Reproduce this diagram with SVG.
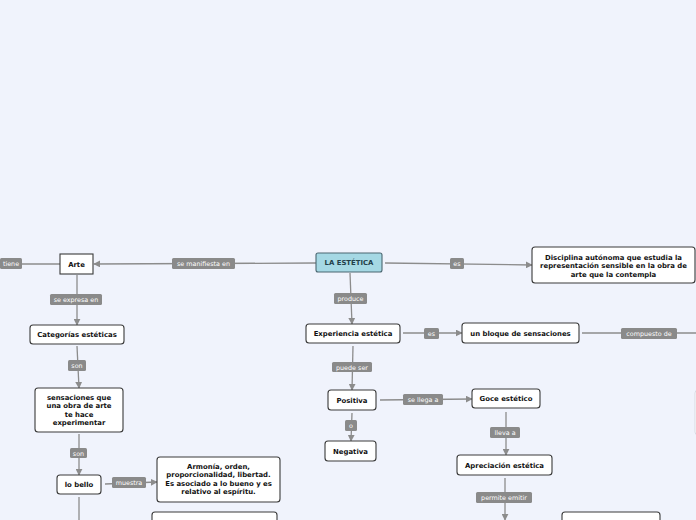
<svg xmlns="http://www.w3.org/2000/svg" width="696" height="520" viewBox="0 0 696 520">
<defs>
<marker id="ah" viewBox="0 0 10 10" refX="9" refY="5" markerWidth="7" markerHeight="7" markerUnits="userSpaceOnUse" orient="auto">
<path d="M0,0 L10,5 L0,10 z" fill="#8c8c8c"/>
</marker>
<style>
.n{fill:#fff;stroke:#3a3a3a;stroke-width:1.1}
.root{fill:#a5d8e4;stroke:#4a6670;stroke-width:1.1}
.t{font-family:"DejaVu Sans",Verdana,sans-serif;font-size:6.9px;font-weight:bold;fill:#111;text-anchor:middle}
.tr{font-family:"DejaVu Sans",Verdana,sans-serif;font-size:6.9px;font-weight:bold;fill:#23404a;text-anchor:middle}
.c{stroke:#8c8c8c;stroke-width:1.3;fill:none}
.lb{fill:#8a8a8a}
.lt{font-family:"DejaVu Sans",Verdana,sans-serif;font-size:6.4px;fill:#fff;text-anchor:middle}
</style>
</defs>
<rect width="696" height="520" fill="#f0f3fc"/>
<g id="connectors">
<line class="c" x1="22" y1="264" x2="60" y2="264"/>
<line class="c" x1="316" y1="263" x2="94" y2="264" marker-end="url(#ah)"/>
<line class="c" x1="385" y1="263" x2="532" y2="265" marker-end="url(#ah)"/>
<line class="c" x1="350" y1="273" x2="352" y2="324" marker-end="url(#ah)"/>
<line class="c" x1="77" y1="275" x2="77" y2="325" marker-end="url(#ah)"/>
<line class="c" x1="77" y1="346" x2="79" y2="388" marker-end="url(#ah)"/>
<line class="c" x1="79" y1="434" x2="79" y2="475" marker-end="url(#ah)"/>
<line class="c" x1="105" y1="484" x2="157" y2="482" marker-end="url(#ah)"/>
<line class="c" x1="79" y1="497" x2="79" y2="520"/>
<line class="c" x1="403" y1="333" x2="462" y2="333" marker-end="url(#ah)"/>
<line class="c" x1="582" y1="333" x2="696" y2="333"/>
<line class="c" x1="353" y1="346" x2="352" y2="390" marker-end="url(#ah)"/>
<line class="c" x1="352" y1="413" x2="351" y2="441" marker-end="url(#ah)"/>
<line class="c" x1="380" y1="400" x2="472" y2="399" marker-end="url(#ah)"/>
<line class="c" x1="506" y1="412" x2="506" y2="455" marker-end="url(#ah)"/>
<line class="c" x1="505" y1="478" x2="505" y2="520" marker-end="url(#ah)"/>
</g>
<g id="labels">
<rect class="lb" x="0" y="258" width="22" height="11" rx="1.5"/><text class="lt" x="11" y="266">tiene</text>
<rect class="lb" x="172" y="258" width="63" height="11" rx="1.5"/><text class="lt" x="203.5" y="266">se manifiesta en</text>
<rect class="lb" x="450" y="258" width="14" height="11" rx="1.5"/><text class="lt" x="457" y="266">es</text>
<rect class="lb" x="334" y="293" width="33" height="11" rx="1.5"/><text class="lt" x="350.5" y="301">produce</text>
<rect class="lb" x="50" y="294" width="52" height="11" rx="1.5"/><text class="lt" x="76" y="302">se expresa en</text>
<rect class="lb" x="68" y="360" width="18" height="11" rx="1.5"/><text class="lt" x="77" y="368">son</text>
<rect class="lb" x="70" y="448" width="17" height="10" rx="1.5"/><text class="lt" x="78.5" y="456">son</text>
<rect class="lb" x="112" y="477" width="34" height="11" rx="1.5"/><text class="lt" x="129" y="485">muestra</text>
<rect class="lb" x="424" y="328" width="15" height="11" rx="1.5"/><text class="lt" x="431.5" y="336">es</text>
<rect class="lb" x="621" y="328" width="56" height="11" rx="1.5"/><text class="lt" x="649" y="336">compuesto de</text>
<rect class="lb" x="332" y="362" width="40" height="10" rx="1.5"/><text class="lt" x="352" y="369.5">puede ser</text>
<rect class="lb" x="345" y="420" width="12" height="11" rx="1.5"/><text class="lt" x="351" y="428">o</text>
<rect class="lb" x="403" y="394" width="40" height="11" rx="1.5"/><text class="lt" x="423" y="402">se llega a</text>
<rect class="lb" x="490" y="427" width="30" height="11" rx="1.5"/><text class="lt" x="505" y="435">lleva a</text>
<rect class="lb" x="476" y="492" width="56" height="11" rx="1.5"/><text class="lt" x="504" y="500">permite emitir</text>
</g>
<g id="n-estetica"><rect class="root" x="316" y="253" width="66" height="19" rx="2"/><text class="tr" x="349" y="265">LA ESTÉTICA</text></g>
<g id="n-arte"><rect class="n" x="60" y="254" width="33" height="20" stroke-width="1.4"/><text class="t" x="76.5" y="266.5">Arte</text></g>
<g id="n-categorias"><rect class="n" x="30" y="325" width="94" height="19" rx="3"/><text class="t" x="77" y="337">Categorías estéticas</text></g>
<g id="n-sensaciones"><rect class="n" x="35" y="388" width="88" height="44" rx="3"/>
<text class="t" x="79" y="399.5">sensaciones que</text><text class="t" x="79" y="408">una obra de arte</text><text class="t" x="79" y="416.5">te hace</text><text class="t" x="79" y="425">experimentar</text></g>
<g id="n-bello"><rect class="n" x="57" y="475" width="44" height="19" rx="3"/><text class="t" x="79" y="487">lo bello</text></g>
<g id="n-armonia"><rect class="n" x="157" y="457" width="123" height="45" rx="3"/>
<text class="t" x="218.5" y="468.5">Armonía, orden,</text><text class="t" x="218.5" y="477">proporcionalidad, libertad.</text><text class="t" x="218.5" y="485.5">Es asociado a lo bueno y es</text><text class="t" x="218.5" y="494">relativo al espíritu.</text></g>
<g id="n-bottom1"><rect class="n" x="152" y="512" width="125" height="20" rx="3"/></g>
<g id="n-experiencia"><rect class="n" x="306" y="324" width="94" height="19" rx="3"/><text class="t" x="353" y="336">Experiencia estética</text></g>
<g id="n-bloque"><rect class="n" x="462" y="323" width="117" height="20" rx="3"/><text class="t" x="520.5" y="335.5">un bloque de sensaciones</text></g>
<g id="n-disciplina"><rect class="n" x="532" y="247" width="163" height="36" rx="3"/>
<text class="t" x="613.5" y="259.5">Disciplina autónoma que estudia la</text><text class="t" x="613.5" y="268">representación sensible en la obra de</text><text class="t" x="613.5" y="276.5">arte que la contempla</text></g>
<g id="n-positiva"><rect class="n" x="328" y="390" width="48" height="20" rx="3"/><text class="t" x="352" y="402.5">Positiva</text></g>
<g id="n-negativa"><rect class="n" x="325" y="441" width="51" height="20" rx="3"/><text class="t" x="350.5" y="453.5">Negativa</text></g>
<g id="n-goce"><rect class="n" x="472" y="389" width="68" height="19" rx="3"/><text class="t" x="506" y="401">Goce estético</text></g>
<g id="n-apreciacion"><rect class="n" x="457" y="455" width="95" height="20" rx="3"/><text class="t" x="504.5" y="467.5">Apreciación estética</text></g>
<g id="n-bottom2"><rect class="n" x="562" y="512" width="98" height="20" rx="3"/></g>
<g id="n-right"><rect x="695" y="390" width="20" height="45" rx="3" fill="#fff" stroke="#d8dbe3" stroke-width="1"/></g>
</svg>
